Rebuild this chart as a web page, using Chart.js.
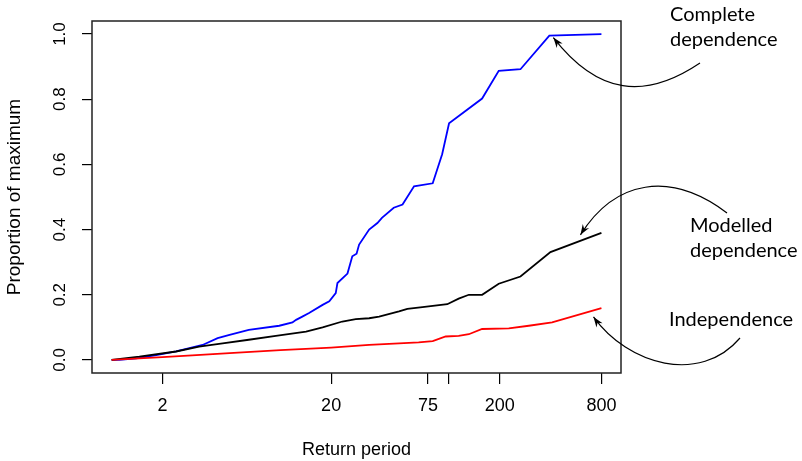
<!DOCTYPE html>
<html>
<head>
<meta charset="utf-8">
<script src="https://cdn.jsdelivr.net/npm/chart.js@4.4.1/dist/chart.umd.min.js"></script>
<style>
  html, body { margin: 0; padding: 0; background: #fff; }
  #wrap { width: 802px; height: 461px; }
</style>
</head>
<body>
<div id="wrap"><canvas id="chart" width="802" height="461"></canvas></div>
<script>
// values (return period, proportion of maximum)
const completePeriod = [1, 1.11, 1.4, 1.84, 2.41, 2.89, 3.46, 4.25, 5, 6.5, 9.85, 11.8, 12.4, 13.5, 14.8, 17.8, 19.5, 21.3, 21.8, 25, 26.7, 28.3, 29.3, 33.6, 37.6, 40, 47, 53, 62, 80, 91, 100, 157, 197, 265, 393, 800];
const completeValue = [0, 0, 0.005, 0.015, 0.026, 0.036, 0.046, 0.067, 0.077, 0.092, 0.105, 0.115, 0.123, 0.133, 0.144, 0.169, 0.18, 0.205, 0.236, 0.265, 0.318, 0.326, 0.354, 0.4, 0.42, 0.436, 0.467, 0.477, 0.533, 0.542, 0.631, 0.726, 0.802, 0.887, 0.892, 0.995, 1.0];

const modelledPeriod = [1, 1.46, 2.41, 3.3, 4.55, 6.5, 9.4, 14.2, 17.8, 23.3, 28, 33.6, 38.5, 50.5, 56.6, 69.5, 97.6, 114, 131, 157, 197, 265, 399, 800];
const modelledValue = [0, 0.01, 0.026, 0.041, 0.051, 0.062, 0.074, 0.087, 0.1, 0.118, 0.125, 0.128, 0.133, 0.149, 0.157, 0.162, 0.171, 0.188, 0.2, 0.2, 0.234, 0.256, 0.331, 0.39];

const indepPeriod = [1, 2, 3, 5, 10, 20, 33.6, 50.5, 66, 80, 95.5, 114, 131, 157, 226, 297, 408, 800];
const indepValue = [0, 0.009, 0.014, 0.021, 0.03, 0.038, 0.046, 0.051, 0.054, 0.058, 0.072, 0.074, 0.079, 0.095, 0.097, 0.105, 0.115, 0.159];

const xTicks = [2, 20, 75, 100, 200, 800];
const xTickLabels = ['2', '20', '75', '', '200', '800'];
const yTicks = [0, 0.2, 0.4, 0.6, 0.8, 1.0];
const yTickLabels = ['0.0', '0.2', '0.4', '0.6', '0.8', '1.0'];

const baseFont = '"Liberation Sans", Arial, Helvetica, sans-serif';
Chart.defaults.font.family = baseFont;
Chart.defaults.color = '#000';

function pairs(px, py) {
    return px.map((p, i) => ({ x: p, y: py[i] }));
}

// R style box, rotated y labels and the curved call-outs
const rExtras = {
    id: 'rExtras',
    afterDraw(chart) {
        const { ctx, chartArea: a, scales: { x, y } } = chart;
        ctx.save();
        ctx.strokeStyle = '#222';
        ctx.lineWidth = 1.5;
        ctx.strokeRect(a.left, a.top, a.right - a.left, a.bottom - a.top);

        ctx.fillStyle = '#000';
        ctx.font = '17px ' + baseFont;
        ctx.textAlign = 'center';
        ctx.textBaseline = 'middle';
        yTicks.forEach((v, i) => {
            ctx.save();
            ctx.translate(60, y.getPixelForValue(v));
            ctx.rotate(-Math.PI / 2);
            ctx.fillText(yTickLabels[i], 0, 0);
            ctx.restore();
        });

        const notes = [
            { lines: ['Complete', 'dependence'], tx: 670, ty: 21, tip: [415, 0.989], c: [[700, 63], [645, 100], [598, 95]] },
            { lines: ['Modelled', 'dependence'], tx: 690, ty: 232, tip: [601, 0.384], c: [[727, 213], [670, 170], [615, 180]] },
            { lines: ['Independence'], tx: 669, ty: 326, tip: [718, 0.132], c: [[740, 338], [700, 385], [628, 365]] }
        ];
        ctx.font = '20px Lato, "Open Sans", sans-serif';
        ctx.textAlign = 'left';
        ctx.textBaseline = 'alphabetic';
        ctx.strokeStyle = '#000';
        ctx.lineWidth = 1.2;
        notes.forEach(n => {
            n.lines.forEach((t, i) => ctx.fillText(t, n.tx, n.ty + i * 25));
            const ex = x.getPixelForValue(n.tip[0]);
            const ey = y.getPixelForValue(n.tip[1]);
            const [p0, p1, p2] = n.c;
            ctx.beginPath();
            ctx.moveTo(p0[0], p0[1]);
            ctx.bezierCurveTo(p1[0], p1[1], p2[0], p2[1], ex, ey);
            ctx.stroke();
            // arrow head along the end tangent
            const ang = Math.atan2(ey - p2[1], ex - p2[0]);
            ctx.beginPath();
            ctx.moveTo(ex, ey);
            ctx.lineTo(ex - 11 * Math.cos(ang - 0.35), ey - 11 * Math.sin(ang - 0.35));
            ctx.lineTo(ex - 7 * Math.cos(ang), ey - 7 * Math.sin(ang));
            ctx.lineTo(ex - 11 * Math.cos(ang + 0.35), ey - 11 * Math.sin(ang + 0.35));
            ctx.closePath();
            ctx.fill();
        });
        ctx.restore();
    }
};

new Chart(document.getElementById('chart'), {
    type: 'line',
    data: {
        datasets: [
            { label: 'Independence', data: pairs(indepPeriod, indepValue), borderColor: '#ff0000' },
            { label: 'Modelled dependence', data: pairs(modelledPeriod, modelledValue), borderColor: '#000000' },
            { label: 'Complete dependence', data: pairs(completePeriod, completeValue), borderColor: '#0000ff' }
        ]
    },
    options: {
        responsive: false,
        devicePixelRatio: 1,
        animation: false,
        layout: { padding: { left: 0, right: 181, top: 21, bottom: 0 } },
        elements: {
            line: { borderWidth: 1.8, tension: 0, fill: false },
            point: { radius: 0 }
        },
        plugins: { legend: { display: false }, tooltip: { enabled: false } },
        scales: {
            x: {
                type: 'logarithmic',
                bounds: 'data',
                min: 0.765,
                max: 1045,
                afterBuildTicks: s => { s.ticks = xTicks.map(v => ({ value: v })); },
                afterFit: s => { s.height = 88; },
                ticks: {
                    autoSkip: false,
                    maxRotation: 0,
                    padding: 11,
                    font: { size: 18 },
                    color: '#000',
                    callback: (v, i) => xTickLabels[i]
                },
                grid: { drawOnChartArea: false, drawTicks: true, tickLength: 11, color: '#000', lineWidth: 1.2 },
                border: { display: false },
                title: { display: true, text: 'Return period', font: { size: 18 }, color: '#000', padding: { top: 0, bottom: 0 } }
            },
            y: {
                type: 'linear',
                bounds: 'data',
                min: -0.04,
                max: 1.04,
                afterBuildTicks: s => { s.ticks = yTicks.map(v => ({ value: v })); },
                afterFit: s => { s.width = 92; },
                ticks: { display: false },
                grid: { drawOnChartArea: false, drawTicks: true, tickLength: 10, color: '#000', lineWidth: 1.2 },
                border: { display: false },
                title: { display: true, text: 'Proportion of maximum', font: { size: 19 }, color: '#000', padding: { top: 3, bottom: 0 } }
            }
        }
    },
    plugins: [rExtras]
});
</script>
</body>
</html>
